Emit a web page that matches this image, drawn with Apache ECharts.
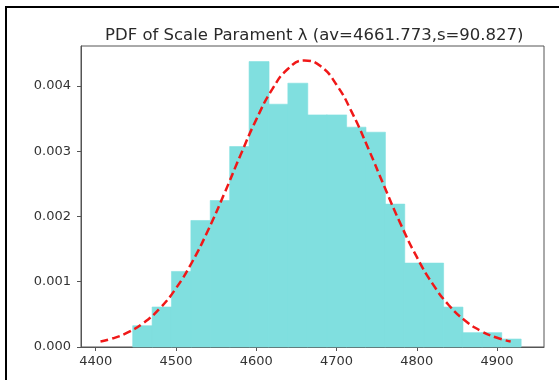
<!DOCTYPE html>
<html>
<head>
<meta charset="utf-8">
<script src="https://cdn.jsdelivr.net/npm/echarts@6/dist/echarts.min.js"></script>
<style>
html,body{margin:0;padding:0;background:#fff;}
#chart{width:559px;height:380px;}
</style>
</head>
<body>
<div id="chart"></div>
<script>
// ---- data ----
const titleText = 'PDF of Scale Parament λ (av=4661.773,s=90.827)';
const binEdges = [4446.1, 4470.3, 4494.4, 4518.6, 4542.7, 4566.9, 4591.1, 4615.2, 4639.4, 4663.5,
                  4687.7, 4711.9, 4736.0, 4760.2, 4784.3, 4808.5, 4832.7, 4856.8, 4881.0, 4905.1, 4929.3];
const binDensity = [0.000326, 0.000613, 0.001158, 0.001939, 0.002245, 0.003072, 0.004374, 0.003721, 0.004043, 0.003557,
                    0.003557, 0.003369, 0.003292, 0.002190, 0.001286, 0.001286, 0.000612, 0.000220, 0.000220, 0.000122];
const curveX = [4406, 4420, 4440, 4460, 4480, 4500, 4520, 4540, 4560, 4580, 4600, 4620, 4640, 4660,
                4680, 4700, 4720, 4740, 4760, 4780, 4800, 4820, 4840, 4860, 4880, 4900, 4917];
const curveY = [0.0000833, 0.000127, 0.000223, 0.000372, 0.000593, 0.000899, 0.001299, 0.001788, 0.002344, 0.002929,
                0.003485, 0.003951, 0.004268, 0.004391, 0.004305, 0.004020, 0.003576, 0.003031, 0.002447, 0.001882,
                0.001380, 0.000963, 0.000640, 0.000406, 0.000245, 0.000141, 0.0000847];
const xTicks = [4400, 4500, 4600, 4700, 4800, 4900];
const yTicks = [0, 0.001, 0.002, 0.003, 0.004];

// ---- build ----
const histData = binDensity.map((d, i) => [binEdges[i], binEdges[i + 1], d]);
const curveData = curveX.map((x, i) => [x, curveY[i]]);

const chart = echarts.init(document.getElementById('chart'), null, {renderer: 'canvas'});
const axisColor = '#555';
const labelColor = '#333';
const fontFam = '"DejaVu Sans", sans-serif';
const barColor = '#80dfdf';

chart.setOption({
  animation: false,
  backgroundColor: '#fff',
  title: {
    text: titleText,
    left: 100,
    top: 22,
    textStyle: {fontFamily: fontFam, fontSize: 16.5, fontWeight: 'normal', color: '#2a2a2a'}
  },
  graphic: [
    {type: 'line', shape: {x1: 5, y1: 7, x2: 559, y2: 7}, style: {stroke: '#000', lineWidth: 2}},
    {type: 'line', shape: {x1: 6, y1: 7, x2: 6, y2: 380}, style: {stroke: '#000', lineWidth: 2}}
  ],
  grid: {
    left: 81, top: 46, right: 15, bottom: 33,
    show: true, borderColor: axisColor, borderWidth: 1, backgroundColor: 'transparent'
  },
  xAxis: {
    type: 'value',
    min: 4381.7, max: 4958.5,
    splitLine: {show: false},
    axisLine: {show: true, onZero: false, lineStyle: {color: axisColor}},
    axisTick: {show: true, length: 4, customValues: xTicks, lineStyle: {color: axisColor}},
    axisLabel: {customValues: xTicks, margin: 8, fontFamily: fontFam, fontSize: 13, color: labelColor,
                formatter: v => String(v), showMinLabel: true, showMaxLabel: true}
  },
  yAxis: {
    type: 'value',
    min: 0, max: 0.004613,
    splitLine: {show: false},
    axisLine: {show: true, lineStyle: {color: axisColor}},
    axisTick: {show: true, length: 4, customValues: yTicks, lineStyle: {color: axisColor}},
    axisLabel: {customValues: yTicks, margin: 10, fontFamily: fontFam, fontSize: 13, color: labelColor,
                formatter: v => v.toFixed(3)}
  },
  series: [
    {
      type: 'custom',
      data: histData,
      encode: {x: [0, 1], y: 2},
      renderItem: function (params, api) {
        const p0 = api.coord([api.value(0), api.value(2)]);
        const p1 = api.coord([api.value(1), 0]);
        return {
          type: 'rect',
          shape: {x: p0[0], y: p0[1], width: p1[0] - p0[0] + 0.6, height: p1[1] - p0[1]},
          style: {fill: barColor, stroke: barColor, lineWidth: 0.6}
        };
      },
      z: 1
    },
    {
      type: 'line',
      data: curveData,
      smooth: true,
      showSymbol: false,
      lineStyle: {color: '#f01818', width: 2.5, type: [8, 4]},
      z: 3
    }
  ]
});
</script>
</body>
</html>
